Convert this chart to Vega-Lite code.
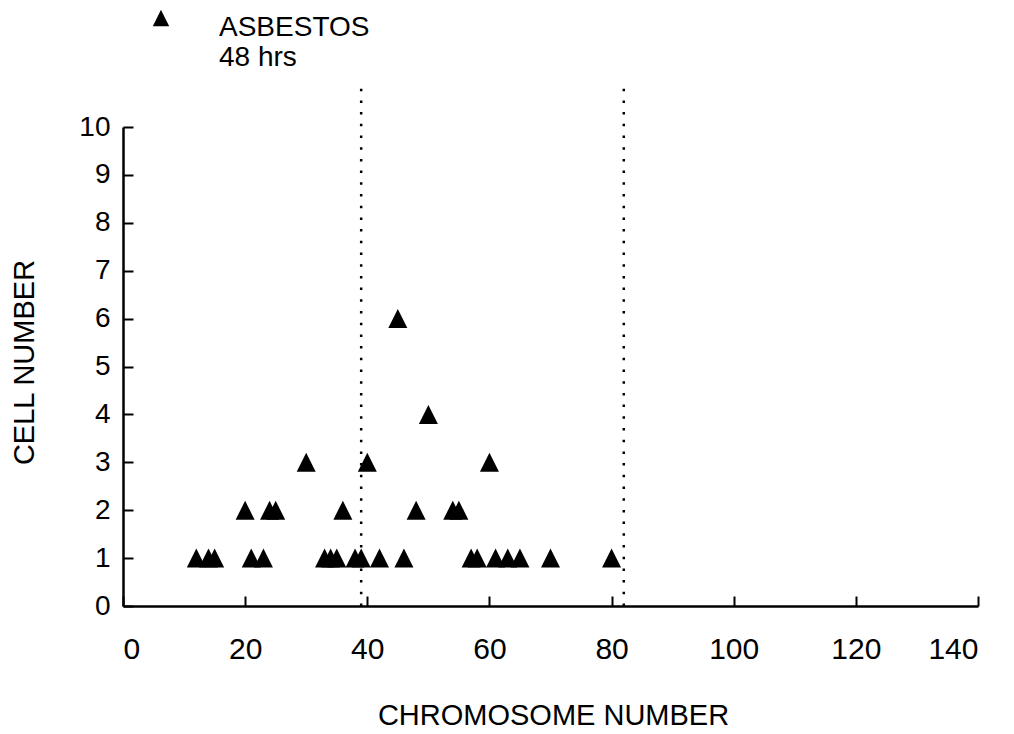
{
  "$schema": "https://vega.github.io/schema/vega-lite/v6.json",
  "width": 855,
  "height": 479,
  "autosize": "none",
  "padding": {"left": 123, "top": 127, "right": 36, "bottom": 128},
  "background": "white",
  "config": {
    "view": {"stroke": null},
    "font": "Liberation Sans",
    "axis": {
      "grid": false,
      "domainColor": "black",
      "domainWidth": 2.5,
      "tickColor": "black",
      "tickWidth": 2,
      "tickSize": -10,
      "labelColor": "black",
      "titleColor": "black",
      "titleFontSize": 29,
      "titleFontWeight": "normal"
    },
    "legend": {
      "orient": "none",
      "legendX": 24,
      "legendY": -113,
      "title": null,
      "labelFontSize": 28,
      "labelColor": "black",
      "symbolSize": 196,
      "symbolFillColor": "black",
      "symbolStrokeColor": "black",
      "symbolOpacity": 1,
      "labelOffset": 44,
      "padding": 0
    }
  },
  "datasets": {
    "points": [
      {"chromosome": 12, "cells": 1, "treatment": "ASBESTOS"},
      {"chromosome": 14, "cells": 1, "treatment": "ASBESTOS"},
      {"chromosome": 15, "cells": 1, "treatment": "ASBESTOS"},
      {"chromosome": 21, "cells": 1, "treatment": "ASBESTOS"},
      {"chromosome": 23, "cells": 1, "treatment": "ASBESTOS"},
      {"chromosome": 33, "cells": 1, "treatment": "ASBESTOS"},
      {"chromosome": 34, "cells": 1, "treatment": "ASBESTOS"},
      {"chromosome": 35, "cells": 1, "treatment": "ASBESTOS"},
      {"chromosome": 38, "cells": 1, "treatment": "ASBESTOS"},
      {"chromosome": 39, "cells": 1, "treatment": "ASBESTOS"},
      {"chromosome": 42, "cells": 1, "treatment": "ASBESTOS"},
      {"chromosome": 46, "cells": 1, "treatment": "ASBESTOS"},
      {"chromosome": 57, "cells": 1, "treatment": "ASBESTOS"},
      {"chromosome": 58, "cells": 1, "treatment": "ASBESTOS"},
      {"chromosome": 61, "cells": 1, "treatment": "ASBESTOS"},
      {"chromosome": 63, "cells": 1, "treatment": "ASBESTOS"},
      {"chromosome": 65, "cells": 1, "treatment": "ASBESTOS"},
      {"chromosome": 70, "cells": 1, "treatment": "ASBESTOS"},
      {"chromosome": 80, "cells": 1, "treatment": "ASBESTOS"},
      {"chromosome": 20, "cells": 2, "treatment": "ASBESTOS"},
      {"chromosome": 24, "cells": 2, "treatment": "ASBESTOS"},
      {"chromosome": 25, "cells": 2, "treatment": "ASBESTOS"},
      {"chromosome": 36, "cells": 2, "treatment": "ASBESTOS"},
      {"chromosome": 48, "cells": 2, "treatment": "ASBESTOS"},
      {"chromosome": 54, "cells": 2, "treatment": "ASBESTOS"},
      {"chromosome": 55, "cells": 2, "treatment": "ASBESTOS"},
      {"chromosome": 30, "cells": 3, "treatment": "ASBESTOS"},
      {"chromosome": 40, "cells": 3, "treatment": "ASBESTOS"},
      {"chromosome": 60, "cells": 3, "treatment": "ASBESTOS"},
      {"chromosome": 50, "cells": 4, "treatment": "ASBESTOS"},
      {"chromosome": 45, "cells": 6, "treatment": "ASBESTOS"}
    ],
    "limits": [
      {"chromosome": 39, "bottom": 0, "top": 10.9},
      {"chromosome": 82, "bottom": 0, "top": 10.9}
    ]
  },
  "layer": [
    {
      "data": {"name": "limits"},
      "mark": {"type": "rule", "color": "black", "strokeWidth": 2.5, "strokeDash": [2.5, 9.2]},
      "encoding": {
        "x": {"field": "chromosome", "type": "quantitative", "scale": {"domain": [0, 140], "nice": false}},
        "y": {"field": "bottom", "type": "quantitative", "scale": {"domain": [0, 10], "nice": false}},
        "y2": {"field": "top"}
      }
    },
    {
      "data": {"name": "points"},
      "mark": {"type": "point", "filled": true, "opacity": 1, "size": 361, "shape": "M0,-1L1,1L-1,1Z"},
      "encoding": {
        "x": {
          "field": "chromosome",
          "type": "quantitative",
          "scale": {"domain": [0, 140], "nice": false},
          "axis": {"values": [0, 20, 40, 60, 80, 100, 120, 140], "title": "CHROMOSOME NUMBER", "labelFontSize": 30, "labelPadding": 38, "titleX": 430, "titleY": 109, "titleBaseline": "middle"}
        },
        "y": {
          "field": "cells",
          "type": "quantitative",
          "scale": {"domain": [0, 10], "nice": false},
          "axis": {"values": [0, 1, 2, 3, 4, 5, 6, 7, 8, 9, 10], "title": "CELL NUMBER", "labelFontSize": 28, "labelPadding": 23, "titleX": -99, "titleY": 235, "titleBaseline": "middle", "titleAngle": -90}
        },
        "color": {
          "field": "treatment",
          "type": "nominal",
          "scale": {"range": ["black"]},
          "legend": {"labelExpr": "[datum.label, '48 hrs']", "labelBaseline": "middle", "labelLimit": 400, "symbolType": "M0,-2.36L1,-0.36L-1,-0.36Z"}
        }
      }
    }
  ]
}
